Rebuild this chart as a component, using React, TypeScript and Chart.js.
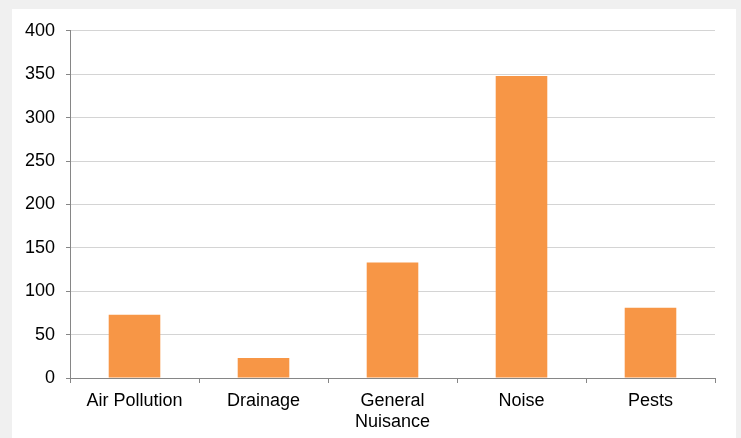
import React, { useEffect, useRef } from "react";
import { Chart, registerables } from "chart.js";

Chart.register(...registerables);

const categories: (string | string[])[] = ["Air Pollution", "Drainage", ["General", "Nuisance"], "Noise", "Pests"];
const values: number[] = [73, 23, 133, 348, 81];
const yTicks: number[] = [0, 50, 100, 150, 200, 250, 300, 350, 400];

export default function App() {
  const ref = useRef<HTMLCanvasElement | null>(null);

  useEffect(() => {
    document.body.style.margin = "0";
    const ctx = ref.current;
    if (!ctx) return;
    const chart = new Chart(ctx, {
      type: "bar",
      data: {
        labels: categories,
        datasets: [
          {
            data: values,
            backgroundColor: "#F79646",
            borderWidth: 0,
            barPercentage: 0.4,
            categoryPercentage: 1,
          },
        ],
      },
      options: {
        animation: false,
        responsive: false,
        maintainAspectRatio: false,
        layout: { padding: { top: 11, right: 21, left: 0, bottom: 0 } },
        plugins: { legend: { display: false }, tooltip: { enabled: false } },
        scales: {
          x: {
            grid: {
              display: true,
              drawOnChartArea: false,
              drawTicks: true,
              tickLength: 5,
              tickColor: "#868686",
              offset: true,
            },
            border: { color: "#868686", width: 1 },
            ticks: {
              color: "#000",
              font: { family: "'Liberation Sans', Arial", size: 18, lineHeight: 1.15 },
              padding: 8,
              maxRotation: 0,
              autoSkip: false,
            },
            afterFit: (axis: any) => {
              axis.height = 60;
            },
          },
          y: {
            min: 0,
            max: 400,
            afterBuildTicks: (axis: any) => {
              axis.ticks = yTicks.map((v) => ({ value: v }));
            },
            grid: {
              color: "#d4d4d4",
              tickColor: "#868686",
              tickLength: 4,
            },
            border: { color: "#868686", width: 1 },
            ticks: {
              color: "#000",
              font: { family: "'Liberation Sans', Arial", size: 18 },
              padding: 11,
            },
            afterFit: (axis: any) => {
              axis.width = 58;
            },
          },
        },
      },
    });
    return () => chart.destroy();
  }, []);

  return (
    <div style={{ position: "relative", width: 741, height: 438, background: "#f0f0f0", overflow: "hidden" }}>
      <div style={{ position: "absolute", left: 12, top: 9, width: 724, height: 429, background: "#fff" }}>
        <canvas ref={ref} width={724} height={429} style={{ display: "block" }} />
      </div>
    </div>
  );
}
